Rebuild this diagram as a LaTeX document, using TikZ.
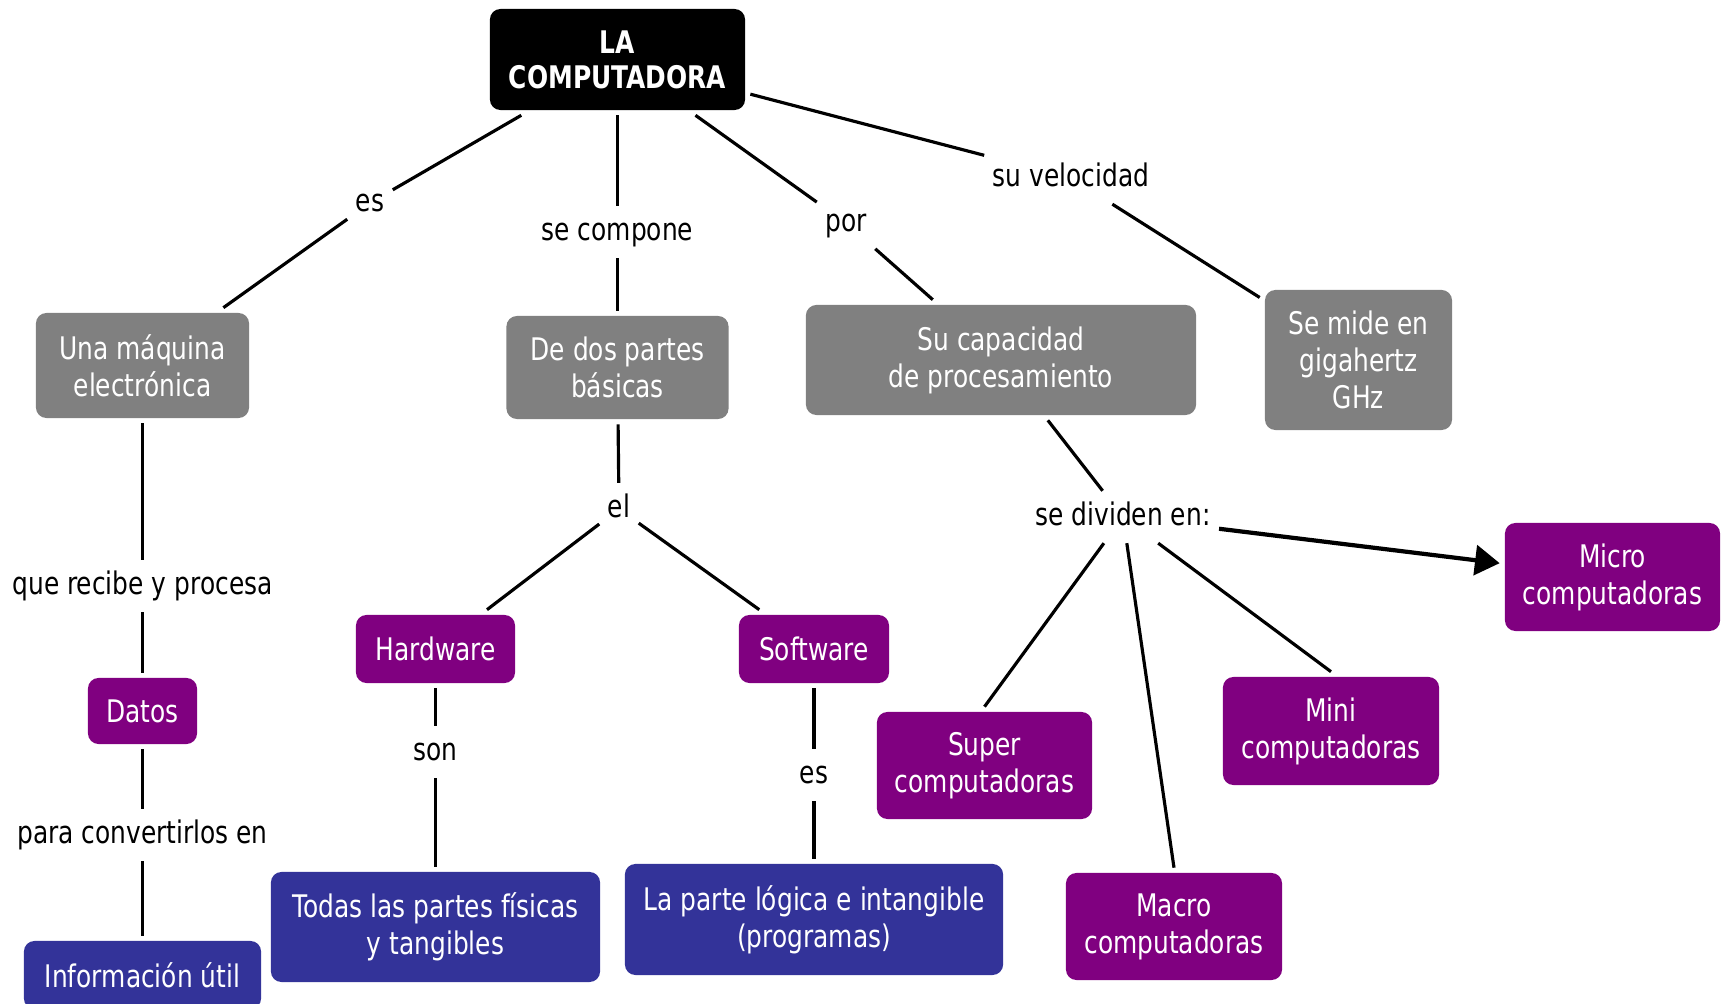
\documentclass[tikz,border=0pt]{standalone}
\usepackage{fontspec}
\setmainfont{DejaVu Sans}[FakeStretch=0.8]
\usetikzlibrary{arrows.meta}

\definecolor{boxgray}{RGB}{128,128,128}
\definecolor{boxpurple}{RGB}{128,0,128}
\definecolor{boxblue}{RGB}{51,51,153}

\tikzset{
  box/.style={rounded corners=3pt, align=center, text=white, inner sep=2pt,
    outer sep=1.5pt, font=\fontsize{8.85pt}{10.5pt}\selectfont},
  rootbox/.style={box, fill=black, font=\bfseries\fontsize{8.85pt}{10pt}\selectfont},
  graybox/.style={box, fill=boxgray},
  purplebox/.style={box, fill=boxpurple},
  bluebox/.style={box, fill=boxblue},
  link/.style={inner sep=2pt, text height=0.75em, text depth=0.25em,
    font=\fontsize{8.85pt}{10.5pt}\selectfont},
}

\begin{document}
\begin{tikzpicture}[x=0.01cm, y=-0.01cm, line width=0.9pt]
        \clip (0,0) rectangle (1729,1004);

        \node[rootbox, minimum width=2.55cm, minimum height=1.01cm] at (617.5,59.5) (root) {LA\\COMPUTADORA};

        \node[graybox, minimum width=2.13cm, minimum height=1.05cm] at (142.5,365.5) (maquina) {Una máquina\\electrónica};
        \node[graybox, minimum width=2.22cm, minimum height=1.03cm] at (617.5,367.5) (partes) {De dos partes\\básicas};
        \node[graybox, minimum width=3.90cm, minimum height=1.10cm] at (1001,360) (capacidad) {Su capacidad\\de procesamiento};
        \node[graybox, minimum width=1.87cm, minimum height=1.40cm] at (1358.5,360) (mide) {Se mide en\\gigahertz\\GHz};

        \node[purplebox, minimum width=1.09cm, minimum height=0.66cm] at (142.5,711) (datos) {Datos};
        \node[bluebox, minimum width=2.37cm, minimum height=0.68cm] at (142.5,975) (info) {Información útil};
        \node[purplebox, minimum width=1.59cm, minimum height=0.68cm] at (435.5,649) (hardware) {Hardware};
        \node[purplebox, minimum width=1.50cm, minimum height=0.68cm] at (814,649) (software) {Software};
        \node[bluebox, minimum width=3.29cm, minimum height=1.10cm] at (435.5,927) (fisicas) {Todas las partes físicas\\y tangibles};
        \node[bluebox, minimum width=3.78cm, minimum height=1.11cm] at (814,919.5) (logica) {La parte lógica e intangible\\(programas)};

        \node[purplebox, minimum width=2.15cm, minimum height=1.07cm] at (984.5,765.5) (super) {Super\\computadoras};
        \node[purplebox, minimum width=2.16cm, minimum height=1.07cm] at (1174,926.5) (macro) {Macro\\computadoras};
        \node[purplebox, minimum width=2.16cm, minimum height=1.08cm] at (1331,731) (mini) {Mini\\computadoras};
        \node[purplebox, minimum width=2.15cm, minimum height=1.08cm] at (1612.5,577) (micro) {Micro\\computadoras};

        \node[link] at (370,203) (es) {es};
        \node[link] at (617.5,232) (compone) {se compone};
        \node[link] at (846,223) (por) {por};
        \node[link] at (1071,178) (velocidad) {su velocidad};
        \node[link] at (142.5,586) (recibe) {que recibe y procesa};
        \node[link] at (142.5,835) (convertir) {para convertirlos en};
        \node[link] at (619,509) (el) {el};
        \node[link] at (435.5,752) (son) {son};
        \node[link] at (814,775) (essoft) {es};
        \node[link] at (1123,517) (dividen) {se dividen en:};

        \draw (root) -- (es) -- (maquina);
        \draw (root) -- (compone) -- (partes);
        \draw (root) -- (por) -- (capacidad);
        \draw (root) -- (velocidad) -- (mide);
        \draw (maquina) -- (recibe) -- (datos);
        \draw (datos) -- (convertir) -- (info);
        \draw (partes) -- (el) -- (hardware);
        \draw (el) -- (software);
        \draw (hardware) -- (son) -- (fisicas);
        \draw (software) -- (essoft) -- (logica);
        \draw (capacidad) -- (dividen);
        \draw (dividen) -- (super.north);
        \draw (dividen) -- (macro.north);
        \draw (dividen) -- (mini.north);
        \draw[line width=1.2pt, -{Triangle[length=7pt,width=8.5pt]}] (dividen) -- (micro);
\end{tikzpicture}
\end{document}
